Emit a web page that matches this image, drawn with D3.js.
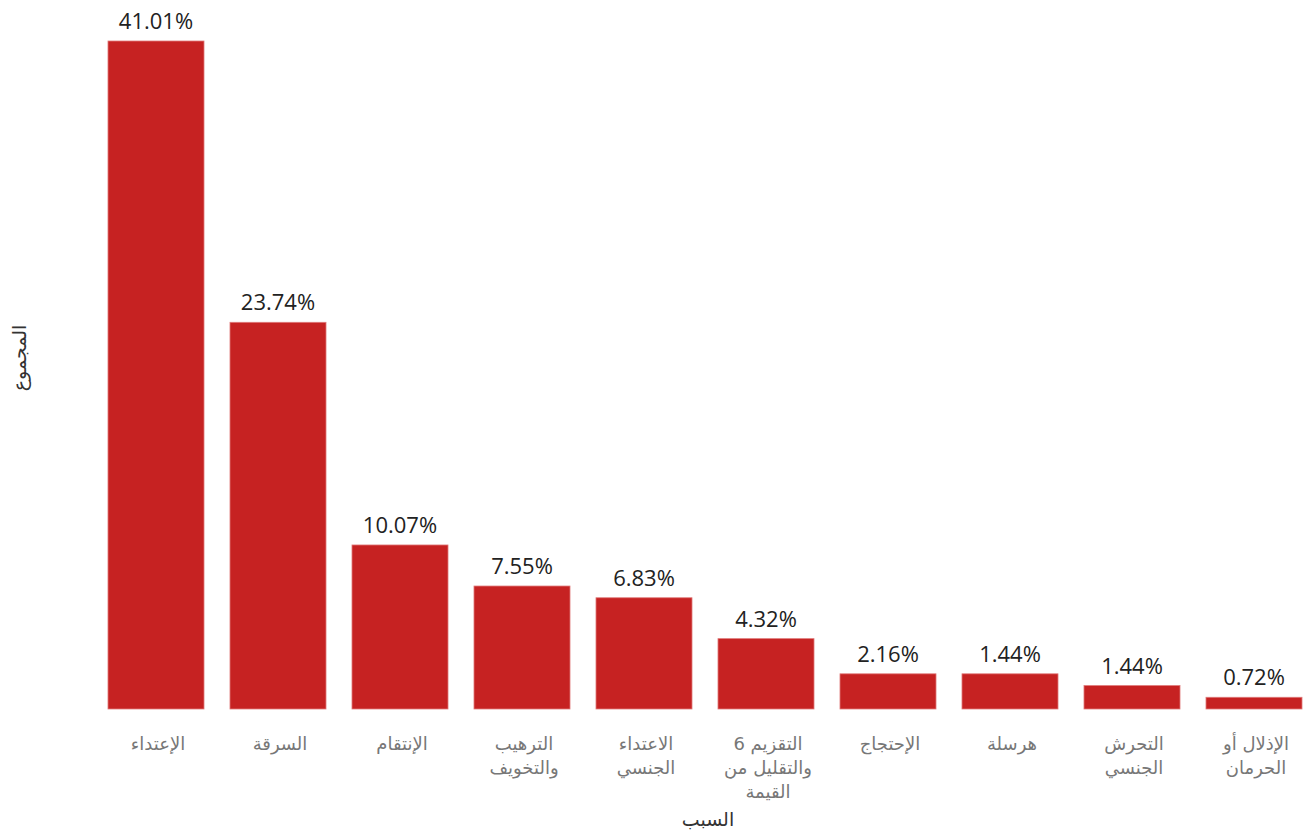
<!DOCTYPE html>
<html><head><meta charset="utf-8">
<script src="https://cdn.jsdelivr.net/npm/d3@7"></script>
<style>body{margin:0;background:#fff;}svg{display:block;}</style>
</head><body>
<svg id="c" width="1306" height="834"></svg>
<script>
const categories = [
  ["الإعتداء"],
  ["السرقة"],
  ["الإنتقام"],
  ["الترهيب","والتخويف"],
  ["الاعتداء","الجنسي"],
  ["التقزيم 6","والتقليل من","القيمة"],
  ["الإحتجاج"],
  ["هرسلة"],
  ["التحرش","الجنسي"],
  ["الإذلال أو","الحرمان"]
];
const barValues = [41.01, 23.74, 10.07, 7.55, 6.83, 4.32, 2.16, 2.16, 1.44, 0.72];
const valueLabels = ["41.01%","23.74%","10.07%","7.55%","6.83%","4.32%","2.16%","1.44%","1.44%","0.72%"];
const xTitle = "السبب";
const yTitle = "المجموع";

const svg = d3.select("#c");
const idx = d3.range(categories.length);
const x = d3.scaleBand().domain(idx).range([95, 1315]).paddingInner(0.213).paddingOuter(0.1065);
const y = d3.scaleLinear().domain([0, 41.01]).range([709, 41]);

svg.selectAll("rect.bar").data(idx).join("rect")
  .attr("class","bar")
  .attr("x", i => x(i)).attr("width", x.bandwidth())
  .attr("y", i => y(barValues[i])).attr("height", i => y(0) - y(barValues[i]))
  .attr("fill", "#c62222").attr("stroke", "#e07a7a").attr("stroke-width", 0.8);

svg.selectAll("text.val").data(idx).join("text")
  .attr("class","val")
  .attr("x", i => x(i) + x.bandwidth()/2)
  .attr("y", i => y(barValues[i]) - 12)
  .attr("text-anchor","middle")
  .attr("font-family","'Open Sans', sans-serif").attr("font-size", 22)
  .attr("fill","#222")
  .text(i => valueLabels[i]);

const cat = svg.selectAll("text.cat").data(idx).join("text")
  .attr("class","cat")
  .attr("text-anchor","middle")
  .attr("direction","rtl")
  .attr("font-family","'DejaVu Sans', sans-serif").attr("font-size", 18)
  .attr("fill","#777");
cat.each(function(i){
  const t = d3.select(this);
  categories[i].forEach((line, k) => {
    t.append("tspan").attr("x", x(i) + x.bandwidth()/2 + 2).attr("y", 750 + k*24).text(line);
  });
});

svg.append("text").attr("x", 708).attr("y", 826).attr("text-anchor","middle")
  .attr("font-family","'DejaVu Sans', sans-serif").attr("font-size", 19).attr("fill","#333")
  .text(xTitle);
svg.append("text").attr("transform","translate(26,358) rotate(-90)").attr("text-anchor","middle")
  .attr("font-family","'DejaVu Sans', sans-serif").attr("font-size", 19).attr("fill","#333")
  .text(yTitle);
</script>
</body></html>
